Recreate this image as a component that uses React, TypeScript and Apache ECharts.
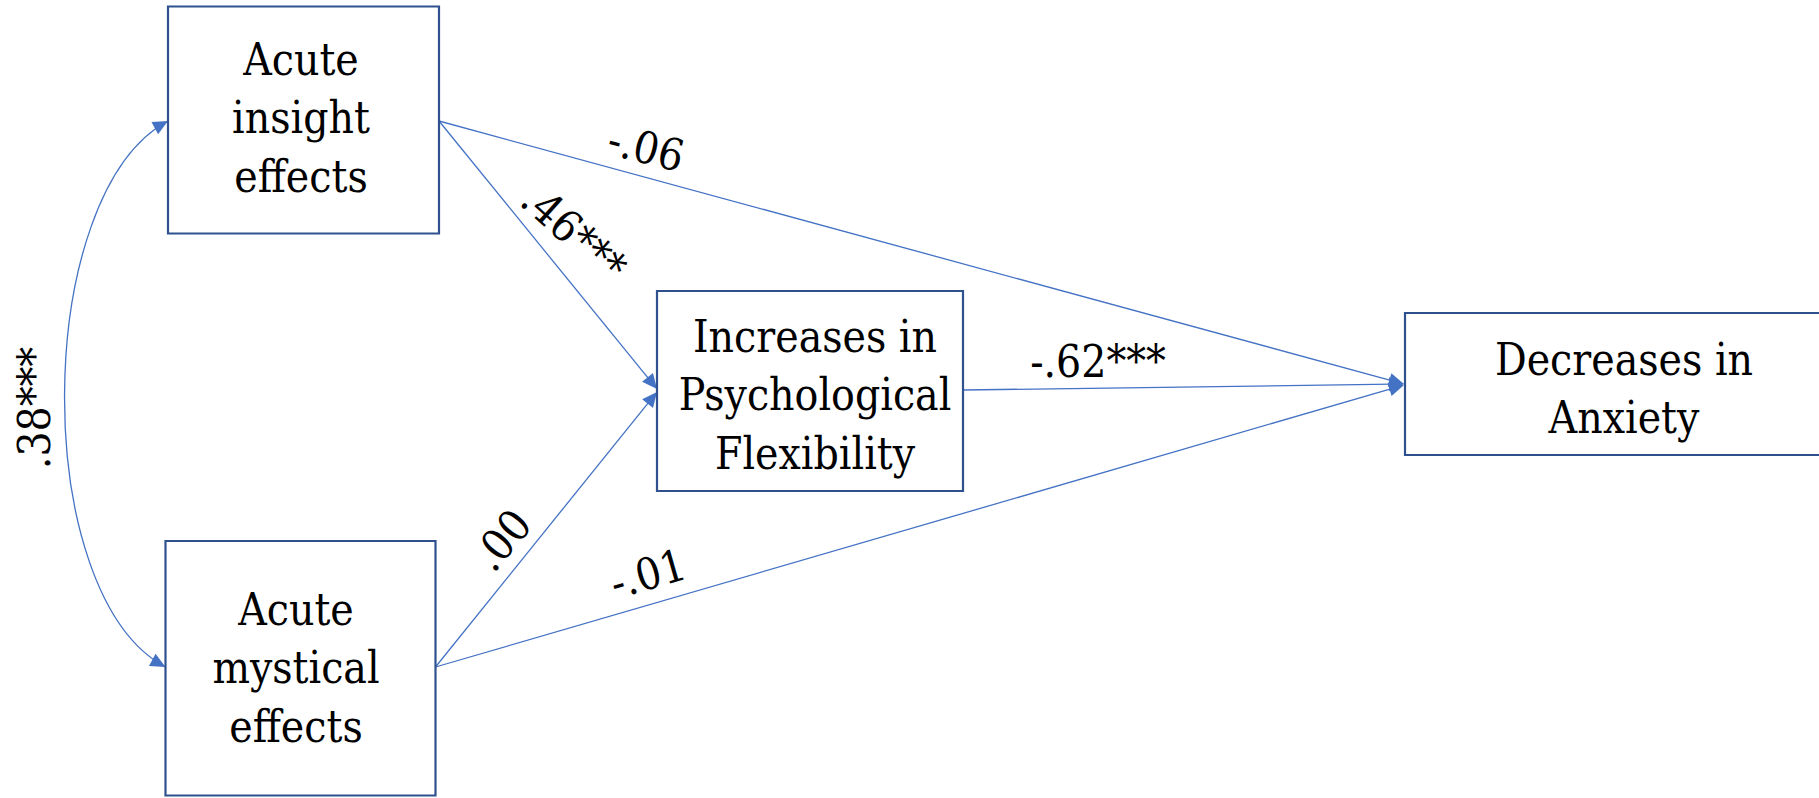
import React, { useEffect, useRef } from 'react';
import * as echarts from 'echarts';

// ---------- data ----------
const nodeIds = ['insight', 'mystical', 'flexibility', 'anxiety'];
const nodeLabels = [
  'Acute\ninsight\neffects',
  'Acute\nmystical\neffects',
  'Increases in\nPsychological\nFlexibility',
  'Decreases in\nAnxiety',
];

const pathFrom = ['insight', 'insight', 'mystical', 'mystical', 'flexibility'];
const pathTo = ['anxiety', 'flexibility', 'flexibility', 'anxiety', 'anxiety'];
const pathCoefficients = ['-.06', '.46***', '.00', '-.01', '-.62***'];

const correlationPair = ['insight', 'mystical'];
const correlationCoefficient = '.38***';

// ---------- layout (pixel space of the 1819x798 canvas) ----------
const CANVAS_W = 1819;
const CANVAS_H = 798;

const boxLayout: Record<string, { x0: number; y0: number; x1: number; y1: number; tx: number; ty: number }> = {
  insight: { x0: 168, y0: 6.5, x1: 439, y1: 233.5, tx: 301, ty: 118 },
  mystical: { x0: 165.5, y0: 541, x1: 435.5, y1: 795.5, tx: 296, ty: 668 },
  flexibility: { x0: 657, y0: 291, x1: 963, y1: 491, tx: 815, ty: 395 },
  anxiety: { x0: 1405, y0: 313, x1: 1860, y1: 455, tx: 1624, ty: 389 },
};

const pathLayout: Record<string, { start: number[]; end: number[]; label: number[]; rot: number }> = {
  'insight>anxiety': { start: [439, 121], end: [1404, 384], label: [646, 148], rot: -14 },
  'insight>flexibility': { start: [439, 121], end: [657, 389], label: [574, 233], rot: -42 },
  'mystical>flexibility': { start: [435.5, 667], end: [657, 392], label: [502, 540], rot: 50 },
  'mystical>anxiety': { start: [435.5, 667], end: [1404, 385], label: [648, 574], rot: 16 },
  'flexibility>anxiety': { start: [963, 390], end: [1404, 384], label: [1098, 362], rot: 0 },
};

const curveLayout = {
  start: [168, 121],
  cp1: [32, 194],
  cp2: [29, 594],
  end: [165.5, 667],
  label: [35, 408],
  rot: 90,
};

const LINE_COLOR = '#4472C4';
const BOX_COLOR = '#2F528F';
const FONT_FAMILY = 'DejaVu Serif';
const FONT_SIZE = 44;
const TEXT_SCALE_X = 0.9;
const ARROW_LEN = 15;
const ARROW_HALF = 7;

function arrowHead(tip: number[], from: number[]) {
  const dx = tip[0] - from[0];
  const dy = tip[1] - from[1];
  const L = Math.hypot(dx, dy) || 1;
  const ux = dx / L;
  const uy = dy / L;
  const bx = tip[0] - ux * ARROW_LEN;
  const by = tip[1] - uy * ARROW_LEN;
  return [
    [tip[0], tip[1]],
    [bx - uy * ARROW_HALF, by + ux * ARROW_HALF],
    [bx + uy * ARROW_HALF, by - ux * ARROW_HALF],
  ];
}

function labelText(text: string, pos: number[], rotDeg: number) {
  return {
    type: 'text',
    x: pos[0],
    y: pos[1],
    rotation: (rotDeg * Math.PI) / 180,
    scaleX: TEXT_SCALE_X,
    style: {
      text,
      fill: '#000',
      fontSize: FONT_SIZE,
      fontFamily: FONT_FAMILY,
      align: 'center',
      verticalAlign: 'middle',
    },
    z2: 10,
  };
}

function buildOption() {
  const edgeData = pathCoefficients.map((c, i) => [i, 0]);
  const nodeData = nodeIds.map((id, i) => [i, 0]);

  return {
    animation: false,
    backgroundColor: '#ffffff',
    grid: { left: 0, right: 0, top: 0, bottom: 0, containLabel: false },
    xAxis: { type: 'value', min: 0, max: CANVAS_W, show: false },
    yAxis: { type: 'value', min: 0, max: CANVAS_H, inverse: true, show: false },
    series: [
      {
        type: 'custom',
        name: 'paths',
        coordinateSystem: 'cartesian2d',
        clip: false,
        z: 1,
        data: edgeData,
        renderItem: (params: any, api: any) => {
          const i = params.dataIndex;
          const key = pathFrom[i] + '>' + pathTo[i];
          const g = pathLayout[key];
          const s = api.coord(g.start);
          const e = api.coord(g.end);
          const lp = api.coord(g.label);
          const dx = e[0] - s[0];
          const dy = e[1] - s[1];
          const L = Math.hypot(dx, dy);
          const lineEnd = [e[0] - (dx / L) * (ARROW_LEN - 3), e[1] - (dy / L) * (ARROW_LEN - 3)];
          return {
            type: 'group',
            children: [
              {
                type: 'line',
                shape: { x1: s[0], y1: s[1], x2: lineEnd[0], y2: lineEnd[1] },
                style: { stroke: LINE_COLOR, lineWidth: 1.3 },
              },
              {
                type: 'polygon',
                shape: { points: arrowHead(e, s) },
                style: { fill: LINE_COLOR },
              },
              labelText(pathCoefficients[i], lp, g.rot),
            ],
          };
        },
      },
      {
        type: 'custom',
        name: 'correlation',
        coordinateSystem: 'cartesian2d',
        clip: false,
        z: 1,
        data: [[0, 0]],
        renderItem: (params: any, api: any) => {
          const p0 = api.coord(curveLayout.start);
          const c1 = api.coord(curveLayout.cp1);
          const c2 = api.coord(curveLayout.cp2);
          const p3 = api.coord(curveLayout.end);
          const lp = api.coord(curveLayout.label);
          return {
            type: 'group',
            children: [
              {
                type: 'bezierCurve',
                shape: {
                  x1: p0[0], y1: p0[1],
                  cpx1: c1[0], cpy1: c1[1],
                  cpx2: c2[0], cpy2: c2[1],
                  x2: p3[0], y2: p3[1],
                },
                style: { stroke: LINE_COLOR, lineWidth: 1.3, fill: 'none' },
              },
              { type: 'polygon', shape: { points: arrowHead(p0, c1) }, style: { fill: LINE_COLOR } },
              { type: 'polygon', shape: { points: arrowHead(p3, c2) }, style: { fill: LINE_COLOR } },
              labelText(correlationCoefficient, lp, curveLayout.rot),
            ],
          };
        },
      },
      {
        type: 'custom',
        name: 'variables',
        coordinateSystem: 'cartesian2d',
        clip: false,
        z: 2,
        data: nodeData,
        renderItem: (params: any, api: any) => {
          const i = params.dataIndex;
          const b = boxLayout[nodeIds[i]];
          const a = api.coord([b.x0, b.y0]);
          const c = api.coord([b.x1, b.y1]);
          const t = api.coord([b.tx, b.ty]);
          return {
            type: 'group',
            children: [
              {
                type: 'rect',
                shape: {
                  x: Math.min(a[0], c[0]),
                  y: Math.min(a[1], c[1]),
                  width: Math.abs(c[0] - a[0]),
                  height: Math.abs(c[1] - a[1]),
                },
                style: { fill: '#ffffff', stroke: BOX_COLOR, lineWidth: 2.2 },
              },
              {
                type: 'text',
                x: t[0],
                y: t[1],
                scaleX: TEXT_SCALE_X,
                style: {
                  text: nodeLabels[i],
                  fill: '#000',
                  fontSize: FONT_SIZE,
                  fontFamily: FONT_FAMILY,
                  align: 'center',
                  verticalAlign: 'middle',
                  lineHeight: 58.5,
                },
                z2: 10,
              },
            ],
          };
        },
      },
    ],
  };
}

export default function App() {
  const ref = useRef<HTMLDivElement>(null);
  useEffect(() => {
    if (!ref.current) return;
    const chart = echarts.init(ref.current, null, { renderer: 'svg' });
    chart.setOption(buildOption() as any);
    return () => {
      chart.dispose();
    };
  }, []);
  return (
    <div
      ref={ref}
      style={{
        position: 'absolute',
        left: 0,
        top: 0,
        width: CANVAS_W,
        height: CANVAS_H,
        background: '#ffffff',
      }}
    />
  );
}
